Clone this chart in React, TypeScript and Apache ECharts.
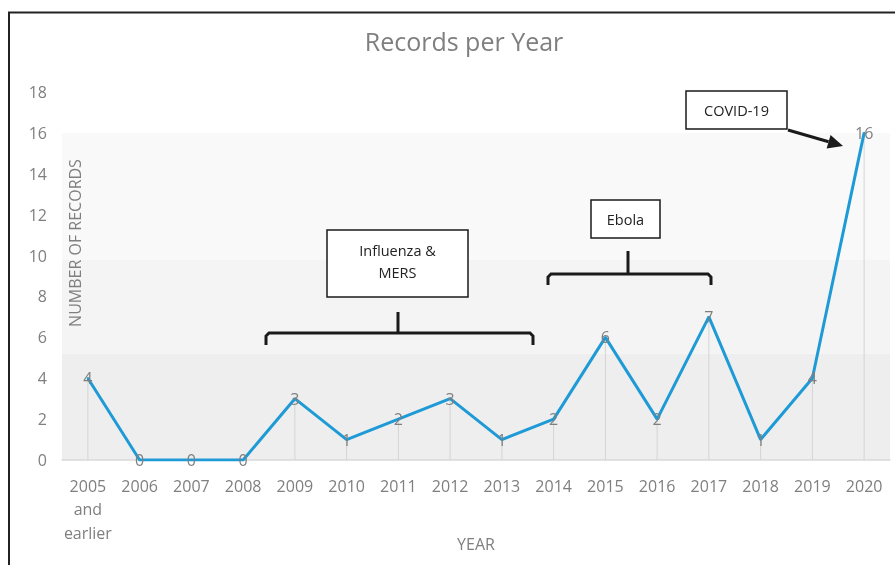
import React, { useEffect, useRef } from "react";
import * as echarts from "echarts";

const categories = [
  "2005\nand\nearlier", "2006", "2007", "2008", "2009", "2010", "2011", "2012",
  "2013", "2014", "2015", "2016", "2017", "2018", "2019", "2020",
];
const records = [4, 0, 0, 0, 3, 1, 2, 3, 1, 2, 6, 2, 7, 1, 4, 16];
const bandEdges = [0, 5.2, 9.8, 16];
const bandColors = ["#eeeeee", "#f4f4f4", "#f9f9f9"];

const FONT = "'Open Sans', 'Noto Sans', sans-serif";
const GRAY = "#7f7f7f";

export default function App() {
  const ref = useRef<HTMLDivElement>(null);
  useEffect(() => {
    if (!ref.current) return;
    const chart = echarts.init(ref.current, undefined, { renderer: "svg" });
    const bands = bandColors.map((c, i) => [
      { yAxis: bandEdges[i], itemStyle: { color: c } },
      { yAxis: bandEdges[i + 1] },
    ]);
    const black = "#1a1a1a";
    const lineStyle = { stroke: black, lineWidth: 3, fill: null };
    const boxStyle = { fill: "#ffffff", stroke: black, lineWidth: 1.5 };
    const txt = (x: number, y: number, t: string) => ({
      type: "text", x, y, z: 30,
      style: { text: t, font: `14.5px ${FONT}`, fill: "#222", textAlign: "center", textVerticalAlign: "middle" },
    });
    const bracket = (x1: number, x2: number, y: number, yEnd: number, xc: number, yTop: number) => [
      { type: "polyline", z: 20, shape: { points: [[x1, yEnd], [x1, y + 3], [x1 + 3, y], [x2 - 3, y], [x2, y + 3], [x2, yEnd]] }, style: lineStyle },
      { type: "line", z: 20, shape: { x1: xc, y1: y, x2: xc, y2: yTop }, style: lineStyle },
    ];
    const tip = [843, 146];
    const dir = [55, 16];
    const len = Math.hypot(dir[0], dir[1]);
    const ux = dir[0] / len, uy = dir[1] / len;
    const bc = [tip[0] - 15 * ux, tip[1] - 15 * uy];
    const px = -uy, py = ux;

    chart.setOption({
      animation: false,
      title: {
        text: "Records per Year",
        left: 459,
        textAlign: "center",
        top: 23,
        textStyle: { fontFamily: FONT, fontSize: 25, fontWeight: "normal", color: GRAY },
      },
      grid: { left: 62, right: 5, top: 92, bottom: 105, outerBoundsMode: "none", containLabel: false },
      xAxis: {
        type: "category",
        data: categories,
        boundaryGap: true,
        axisTick: { show: false },
        axisLine: { lineStyle: { color: "#d9d9d9", width: 1.5 } },
        axisLabel: { color: GRAY, fontFamily: FONT, fontSize: 16, margin: 14, lineHeight: 23.5, interval: 0 },
        name: "YEAR",
        nameLocation: "middle",
        nameGap: 76,
        nameMoveOverlap: false,
        nameTextStyle: { color: GRAY, fontFamily: FONT, fontSize: 16 },
      },
      yAxis: {
        type: "value",
        min: 0,
        max: 18,
        interval: 2,
        splitLine: { show: false },
        axisLine: { show: false },
        axisTick: { show: false },
        axisLabel: { color: GRAY, fontFamily: FONT, fontSize: 16, margin: 15 },
      },
      series: [
        {
          type: "bar",
          data: records,
          barWidth: 1,
          itemStyle: { color: "#d4d4d4" },
          silent: true,
          z: 1,
          markArea: { silent: true, data: bands, z: 0 },
        },
        {
          type: "line",
          data: records,
          symbol: "circle",
          symbolSize: 2,
          itemStyle: { color: "#1e9ad6" },
          lineStyle: { color: "#1e9ad6", width: 3 },
          z: 5,
          label: {
            show: true,
            position: "inside",
            color: GRAY,
            fontFamily: FONT,
            fontSize: 16,
          },
        },
      ],
      graphic: [
        { type: "line", shape: { x1: 8, y1: 12.5, x2: 895, y2: 12.5 }, style: { stroke: "#222", lineWidth: 2 } },
        { type: "line", shape: { x1: 9, y1: 12, x2: 9, y2: 565 }, style: { stroke: "#222", lineWidth: 2 } },
        {
          type: "text", x: 75, y: 243, rotation: Math.PI / 2, z: 10,
          style: { text: "NUMBER OF RECORDS", font: `16px ${FONT}`, fill: GRAY, textAlign: "center", textVerticalAlign: "middle" },
        },
        { type: "rect", z: 25, shape: { x: 327, y: 230, width: 141, height: 67 }, style: boxStyle },
        txt(397.5, 250, "Influenza &"),
        txt(397.5, 272, "MERS"),
        ...bracket(266, 533, 333, 345, 398, 312),
        { type: "rect", z: 25, shape: { x: 591, y: 200, width: 69, height: 38 }, style: boxStyle },
        txt(625.5, 219, "Ebola"),
        ...bracket(548, 711, 274, 285, 628, 251),
        { type: "rect", z: 25, shape: { x: 686, y: 91, width: 101, height: 38 }, style: boxStyle },
        txt(736.5, 110, "COVID-19"),
        { type: "line", z: 20, shape: { x1: 788, y1: 130, x2: bc[0], y2: bc[1] }, style: { stroke: black, lineWidth: 3 } },
        {
          type: "polygon", z: 20,
          shape: { points: [tip, [bc[0] + 7 * px, bc[1] + 7 * py], [bc[0] - 7 * px, bc[1] - 7 * py]] },
          style: { fill: black },
        },
      ],
    });
    return () => chart.dispose();
  }, []);
  return <div ref={ref} style={{ position: "fixed", left: 0, top: 0, width: 895, height: 565 }} />;
}
